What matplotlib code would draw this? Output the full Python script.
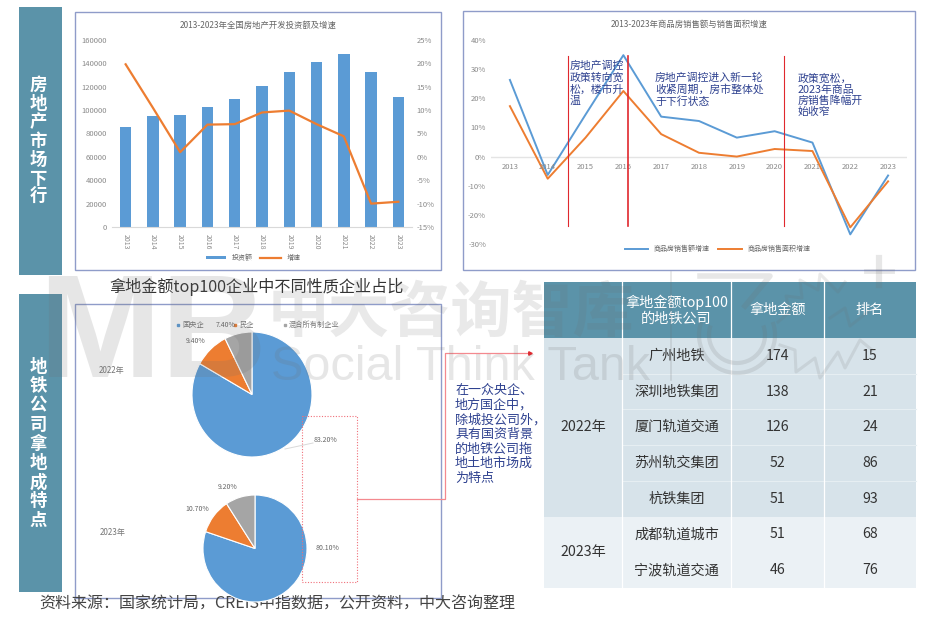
import matplotlib
matplotlib.use("Agg")
import matplotlib.pyplot as plt
from matplotlib.patches import Rectangle, Arc
from matplotlib.ticker import FuncFormatter

plt.rcParams['font.family'] = ['Noto Sans CJK SC', 'DejaVu Sans']

W, H = 947, 632

# DATA
years = ['2013', '2014', '2015', '2016', '2017', '2018', '2019', '2020', '2021', '2022', '2023']
invest = [85900, 95000, 96000, 102500, 109800, 120300, 132200, 141400, 147600, 132900, 110900]
invest_growth = [19.8, 10.5, 1.0, 6.9, 7.0, 9.5, 9.9, 7.0, 4.4, -10.0, -9.6]
sales_amount = [26.3, -6.3, 14.4, 34.8, 13.7, 12.2, 6.5, 8.7, 4.8, -26.7, -6.5]
sales_area = [17.3, -7.6, 6.5, 22.5, 7.7, 1.3, 0.0, 2.6, 1.9, -24.3, -8.5]

pie_labels = ['国央企', '民企', '混合所有制企业']
share_2022 = [83.2, 9.4, 7.4]
share_2023 = [80.1, 10.7, 9.2]

table_header = ['拿地金额top100\n的地铁公司', '拿地金额', '排名']
companies = ['广州地铁', '深圳地铁集团', '厦门轨道交通', '苏州轨交集团', '杭铁集团', '成都轨道城市', '宁波轨道交通']
land_amount = [174, 138, 126, 52, 51, 51, 46]
land_rank = [15, 21, 24, 86, 93, 68, 76]

BLUE = '#5b9bd5'
ORANGE = '#ed7d31'
GREY = '#a5a5a5'
TEAL = '#5b93a9'
NAVY = '#2f4290'
FRAME = '#8f9cc9'
TICK = '#8a8a8a'


def px_axes(x0, y0, x1, y1, **kw):
    # axes placed by pixel box, y counted from the top
    return fig.add_axes([x0 / W, 1 - y1 / H, (x1 - x0) / W, (y1 - y0) / H], **kw)


fig = plt.figure(figsize=(W / 100, H / 100), dpi=100, facecolor='white')

# frames and side panels go underneath
bg = px_axes(0, 0, W, H, zorder=0)
bg.set_xlim(0, W)
bg.set_ylim(H, 0)
bg.axis('off')
for x0, y0, x1, y1 in [(75, 12, 441, 270), (463, 11, 915, 270), (75, 304, 441, 598)]:
    bg.add_patch(Rectangle((x0, y0), x1 - x0, y1 - y0, fc='white', ec=FRAME, lw=1))
bg.add_patch(Rectangle((19, 7), 43, 268, fc=TEAL, ec='none'))
bg.add_patch(Rectangle((19, 294), 43, 298, fc=TEAL, ec='none'))
for i, ch in enumerate('房地产市场下行'):
    bg.text(38, 85 + i * 18.7, ch, color='white', fontsize=12.5, fontweight='bold', ha='center', va='center')
for i, ch in enumerate('地铁公司拿地成特点'):
    bg.text(38, 367 + i * 19.2, ch, color='white', fontsize=12.5, fontweight='bold', ha='center', va='center')
bg.text(257, 287, '拿地金额top100企业中不同性质企业占比', fontsize=11.6, color='#333333', ha='center', va='center')
bg.text(39, 604, '资料来源\uff1a国家统计局\uff0cCREIS中指数据\uff0c公开资料\uff0c中大咨询整理', fontsize=11.5, color='#444444',
        ha='left', va='center')
bg.text(258, 25, '2013-2023年全国房地产开发投资额及增速', fontsize=6, color='#666666', ha='center', va='center')
bg.text(689, 24, '2013-2023年商品房销售额与销售面积增速', fontsize=6, color='#666666', ha='center', va='center')

# investment chart
ax1 = px_axes(112, 40, 412, 227, zorder=1)
ax1.patch.set_alpha(0)
xs = range(len(years))
ax1.bar(xs, invest, width=0.42, color=BLUE, label='投资额')
ax1.set_xlim(-0.5, 10.5)
ax1.set_ylim(0, 160000)
ax1.set_yticks(range(0, 160001, 20000))
ax1.set_xticks(list(xs))
ax1.set_xticklabels(years, rotation=-90, fontsize=5, color=TICK)
ax1.tick_params(axis='y', labelsize=5.5, colors=TICK, length=0)
ax1.tick_params(axis='x', length=0, pad=5)
for s in ['top', 'left', 'right']:
    ax1.spines[s].set_visible(False)
ax1.spines['bottom'].set_color('#d9d9d9')
ax1b = ax1.twinx()
ax1b.plot(xs, invest_growth, color=ORANGE, lw=1.6, label='增速')
ax1b.set_ylim(-15, 25)
ax1b.set_yticks(range(-15, 26, 5))
ax1b.yaxis.set_major_formatter(FuncFormatter(lambda v, p: '%d%%' % v))
ax1b.tick_params(axis='y', labelsize=5.5, colors=TICK, length=0)
for s in ['top', 'left', 'right', 'bottom']:
    ax1b.spines[s].set_visible(False)
h1, l1 = ax1.get_legend_handles_labels()
h2, l2 = ax1b.get_legend_handles_labels()
ax1.legend(h1 + h2, l1 + l2, ncol=2, frameon=False, fontsize=5, labelcolor='#666666',
           loc='center', bbox_to_anchor=(0.47, -0.166), handlelength=3, handleheight=0.4, columnspacing=1)

# sales chart
ax2 = px_axes(491, 40, 907, 244, zorder=1)
ax2.patch.set_alpha(0)
ax2.plot(xs, sales_amount, color=BLUE, lw=1.4, label='商品房销售额增速')
ax2.plot(xs, sales_area, color=ORANGE, lw=1.4, label='商品房销售面积增速')
ax2.set_xlim(-0.5, 10.5)
ax2.set_ylim(-30, 40)
ax2.set_yticks(range(-30, 41, 10))
ax2.yaxis.set_major_formatter(FuncFormatter(lambda v, p: '%d%%' % v))
ax2.set_xticks([])
ax2.tick_params(axis='y', length=0, labelsize=5.5, colors=TICK)
for s in ['top', 'left', 'right', 'bottom']:
    ax2.spines[s].set_visible(False)
ax2.axhline(0, color='#e4e4e4', lw=1, zorder=0)
# year labels sit just below the zero line
for i, yr in enumerate(years):
    ax2.text(i, -3.5, yr, fontsize=5.5, color=TICK, ha='center', va='center')
ax2.legend(ncol=2, frameon=False, fontsize=5, labelcolor='#666666', loc='center',
           bbox_to_anchor=(0.545, -0.025), handlelength=3.4, columnspacing=1.2)

# pies
pie_colors = [BLUE, ORANGE, GREY]
for box, vals in [((192, 332, 312, 457), share_2022), ((203, 495, 307, 602), share_2023)]:
    ax = px_axes(*box, zorder=1)
    ax.pie(vals, colors=pie_colors, startangle=90, counterclock=False, radius=1,
           wedgeprops={'edgecolor': 'white', 'linewidth': 0.8})
    ax.set_xlim(-1, 1)
    ax.set_ylim(-1, 1)
    ax.set_aspect('auto')

# everything drawn in pixels on top of the charts
ov = px_axes(0, 0, W, H, zorder=2)
ov.set_xlim(0, W)
ov.set_ylim(H, 0)
ov.axis('off')
ov.patch.set_alpha(0)

for xx, col, lab in zip([178, 235, 285], pie_colors, pie_labels):
    ov.plot([xx], [325], 's', ms=1.8, color=col)
    ov.text(xx + 4, 325, lab, fontsize=5.2, color='#777777', va='center')
pie_notes = [(226, 325, '7.40%'), (196, 341, '9.40%'), (325, 440, '83.20%'),
             (228, 487, '9.20%'), (197, 509, '10.70%'), (328, 548, '80.10%')]
for xx, yy, txt in pie_notes:
    ov.text(xx, yy, txt, fontsize=5, color='#666666', ha='center', va='center')
ov.plot([285, 313], [449, 443], color='#d9d9d9', lw=0.7)
ov.text(112, 370, '2022年', fontsize=5.8, color='#777777', ha='center', va='center')
ov.text(113, 533, '2023年', fontsize=5.8, color='#777777', ha='center', va='center')

# red policy markers and notes
for xx, lw in [(568, 0.8), (628, 1.2), (784, 0.8)]:
    ov.plot([xx, xx], [56, 226], color='#e0282e', lw=lw)
ov.text(570, 61, '房地产调控\n政策转向宽\n松\uff0c楼市升\n温', fontsize=7.8, color=NAVY, va='top', linespacing=1.12)
ov.text(655, 73, '房地产调控进入新一轮\n收紧周期\uff0c房市整体处\n于下行状态', fontsize=7.8, color=NAVY, va='top', linespacing=1.12)
ov.text(798, 73, '政策宽松\uff0c\n2023年商品\n房销售降幅开\n始收窄', fontsize=7.8, color=NAVY, va='top', linespacing=1.12)

# dashed box and connector
ov.add_patch(Rectangle((302, 416), 55, 166, fc='none', ec='#f0707a', lw=0.8, ls=(0, (1, 1.5))))
ov.plot([357, 445, 445, 528], [499, 499, 353, 353], color='#f4898f', lw=0.9)
ov.plot([530], [353], '>', ms=2.5, color='#e0282e')
ov.text(455, 384, '在一众央企\u3001\n地方国企中\uff0c\n除城投公司外\uff0c\n具有国资背景\n的地铁公司拖\n地土地市场成\n为特点', fontsize=9.4,
        color=NAVY, va='top', linespacing=1.16)

# table
col_x = [544, 622, 731, 824, 916]
head_top, head_bot, row_h = 282, 338, 35.7
ov.add_patch(Rectangle((col_x[0], head_top), col_x[-1] - col_x[0], head_bot - head_top, fc=TEAL, ec='none'))
for i, txt in enumerate(table_header):
    ov.text((col_x[i + 1] + col_x[i + 2]) / 2, (head_top + head_bot) / 2, txt, color='white', fontsize=10.2,
            ha='center', va='center', linespacing=1.1)
for i, name in enumerate(companies):
    y0 = head_bot + i * row_h
    ov.add_patch(Rectangle((col_x[0], y0), col_x[-1] - col_x[0], row_h, fc='#d7e3ea' if i < 5 else '#ebf1f5', ec='none'))
    if i < 4:
        ov.plot([col_x[1], col_x[-1]], [y0 + row_h, y0 + row_h], color='#e6eef2', lw=0.8)
    cells = [name, land_amount[i], land_rank[i]]
    for j, val in enumerate(cells):
        ov.text((col_x[j + 1] + col_x[j + 2]) / 2, y0 + row_h / 2, str(val), fontsize=10.2, color='#333333',
                ha='center', va='center')
for xx in col_x[1:-1]:
    ov.plot([xx, xx], [head_top, head_bot + 7 * row_h], color='white', lw=0.9)
ov.text(583, head_bot + 2.5 * row_h, '2022年', fontsize=10.2, color='#333333', ha='center', va='center')
ov.text(583, head_bot + 6 * row_h, '2023年', fontsize=10.2, color='#333333', ha='center', va='center')

# watermark, clipped so it starts below the upper charts
wm = px_axes(0, 270, W, H, zorder=3)
wm.set_xlim(0, W)
wm.set_ylim(H, 270)
wm.axis('off')
wm.patch.set_alpha(0)
WM = '#6e6e6e'
wm.text(38, 377, 'MB', family='Liberation Sans', fontweight='bold', fontsize=106, color=WM, alpha=0.17,
        ha='left', va='baseline', clip_on=True)
wm.text(268, 332, '中大咨询智库', fontsize=44, fontweight='bold', color=WM, alpha=0.15, ha='left', va='baseline', clip_on=True)
wm.text(271, 380, 'Social Think Tank', family='Liberation Sans', fontsize=35, color=WM, alpha=0.17, ha='left',
        va='baseline', clip_on=True)
wm.plot([671, 671], [272, 380], color=WM, alpha=0.18, lw=1.2)
# round 3 mark with the zigzag rings beside it
for d in [76, 56]:
    wm.add_patch(Arc((737, 335), d, d, theta1=-20, theta2=200, color=WM, alpha=0.16, lw=3, clip_on=True))
wm.plot([700, 770, 745], [276, 276, 306], color=WM, alpha=0.16, lw=4)
zigzags = [([778, 790, 786, 802, 800, 818, 820, 838, 845], [322, 312, 296, 298, 280, 290, 274, 292, 282]),
           ([780, 795, 796, 815, 820, 838, 845, 860, 872], [345, 350, 372, 358, 378, 352, 368, 340, 350]),
           ([830, 845, 850, 868], [318, 308, 326, 312])]
for zx, zy in zigzags:
    wm.plot(zx, zy, color=WM, alpha=0.14, lw=2.2)
ov.plot([879, 879], [258, 285], color=WM, alpha=0.16, lw=4.5)
ov.plot([866, 892], [271, 271], color=WM, alpha=0.16, lw=3.5)

fig.savefig('out.png', dpi=100)
